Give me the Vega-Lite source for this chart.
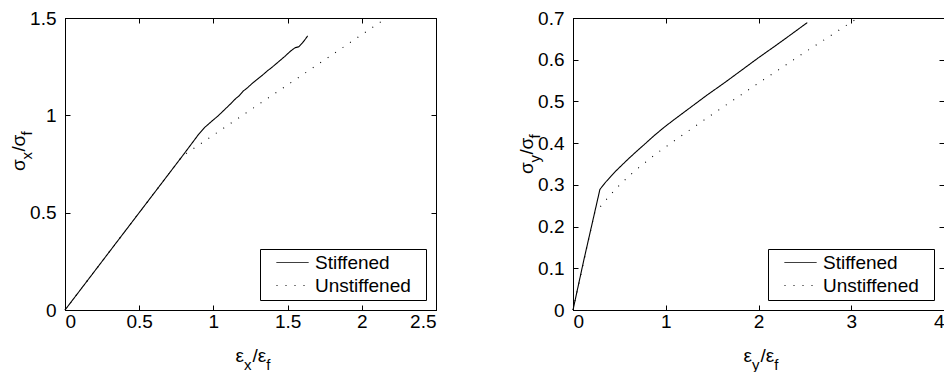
{
  "$schema": "https://vega.github.io/schema/vega-lite/v6.json",
  "background": "white",
  "padding": {"left": 9, "top": 8, "right": 5, "bottom": 5},
  "spacing": 137,
  "bounds": "flush",
  "resolve": {"scale": {"strokeDash": "independent"}, "legend": {"strokeDash": "independent"}},
  "config": {
    "font": "Liberation Sans",
    "view": {"stroke": "black", "strokeWidth": 1},
    "axis": {
      "grid": false,
      "labelFont": "Liberation Sans",
      "labelFontSize": 19,
      "labelColor": "black",
      "domainColor": "black",
      "tickColor": "black",
      "tickSize": -5,
      "tickWidth": 1,
      "format": "~g",
      "title": null
    },
    "axisBottom": {"labelPadding": 7},
    "axisLeft": {"labelPadding": 14},
    "legend": {
      "orient": "bottom-right",
      "offset": 10,
      "padding": 4,
      "rowPadding": 3,
      "strokeColor": "black",
      "fillColor": "white",
      "labelFont": "Liberation Sans",
      "labelFontSize": 19,
      "labelColor": "black",
      "labelOffset": 13,
      "symbolOffset": 19,
      "symbolType": "M-2,0H2M15.9,0",
      "symbolSize": 256,
      "symbolStrokeWidth": 1,
      "symbolStrokeColor": "black",
      "title": null
    },
    "text": {"font": "Liberation Sans", "color": "black", "baseline": "alphabetic", "align": "left"}
  },
  "datasets": {
    "strainX": [
      {"e": 0, "s": 0, "series": "Stiffened"},
      {"e": 0.5, "s": 0.5, "series": "Stiffened"},
      {"e": 0.8, "s": 0.8, "series": "Stiffened"},
      {"e": 0.9, "s": 0.902, "series": "Stiffened"},
      {"e": 0.94, "s": 0.937, "series": "Stiffened"},
      {"e": 0.97, "s": 0.957, "series": "Stiffened"},
      {"e": 1.0, "s": 0.977, "series": "Stiffened"},
      {"e": 1.03, "s": 0.996, "series": "Stiffened"},
      {"e": 1.06, "s": 1.018, "series": "Stiffened"},
      {"e": 1.09, "s": 1.04, "series": "Stiffened"},
      {"e": 1.12, "s": 1.062, "series": "Stiffened"},
      {"e": 1.15, "s": 1.086, "series": "Stiffened"},
      {"e": 1.17, "s": 1.098, "series": "Stiffened"},
      {"e": 1.2, "s": 1.124, "series": "Stiffened"},
      {"e": 1.23, "s": 1.142, "series": "Stiffened"},
      {"e": 1.26, "s": 1.163, "series": "Stiffened"},
      {"e": 1.3, "s": 1.188, "series": "Stiffened"},
      {"e": 1.33, "s": 1.206, "series": "Stiffened"},
      {"e": 1.36, "s": 1.226, "series": "Stiffened"},
      {"e": 1.4, "s": 1.25, "series": "Stiffened"},
      {"e": 1.44, "s": 1.276, "series": "Stiffened"},
      {"e": 1.48, "s": 1.302, "series": "Stiffened"},
      {"e": 1.52, "s": 1.33, "series": "Stiffened"},
      {"e": 1.55, "s": 1.347, "series": "Stiffened"},
      {"e": 1.575, "s": 1.352, "series": "Stiffened"},
      {"e": 1.6, "s": 1.372, "series": "Stiffened"},
      {"e": 1.62, "s": 1.392, "series": "Stiffened"},
      {"e": 1.635, "s": 1.408, "series": "Stiffened"},
      {"e": 0, "s": 0, "series": "Unstiffened"},
      {"e": 0.79, "s": 0.79, "series": "Unstiffened"},
      {"e": 1.2, "s": 1.002, "series": "Unstiffened"},
      {"e": 1.6, "s": 1.208, "series": "Unstiffened"},
      {"e": 2.15, "s": 1.492, "series": "Unstiffened"}
    ],
    "strainY": [
      {"e": 0, "s": 0, "series": "Stiffened"},
      {"e": 0.115, "s": 0.118, "series": "Stiffened"},
      {"e": 0.29, "s": 0.289, "series": "Stiffened"},
      {"e": 0.35, "s": 0.306, "series": "Stiffened"},
      {"e": 0.41, "s": 0.321, "series": "Stiffened"},
      {"e": 0.47, "s": 0.335, "series": "Stiffened"},
      {"e": 0.535, "s": 0.349, "series": "Stiffened"},
      {"e": 0.6, "s": 0.363, "series": "Stiffened"},
      {"e": 0.679, "s": 0.379, "series": "Stiffened"},
      {"e": 0.77, "s": 0.397, "series": "Stiffened"},
      {"e": 0.88, "s": 0.419, "series": "Stiffened"},
      {"e": 0.988, "s": 0.439, "series": "Stiffened"},
      {"e": 1.1, "s": 0.458, "series": "Stiffened"},
      {"e": 1.275, "s": 0.487, "series": "Stiffened"},
      {"e": 1.45, "s": 0.516, "series": "Stiffened"},
      {"e": 1.635, "s": 0.545, "series": "Stiffened"},
      {"e": 1.8, "s": 0.572, "series": "Stiffened"},
      {"e": 1.995, "s": 0.604, "series": "Stiffened"},
      {"e": 2.18, "s": 0.633, "series": "Stiffened"},
      {"e": 2.354, "s": 0.661, "series": "Stiffened"},
      {"e": 2.526, "s": 0.689, "series": "Stiffened"},
      {"e": 0, "s": 0, "series": "Unstiffened"},
      {"e": 0.232, "s": 0.232, "series": "Unstiffened"},
      {"e": 0.284, "s": 0.245, "series": "Unstiffened"},
      {"e": 0.345, "s": 0.261, "series": "Unstiffened"},
      {"e": 0.464, "s": 0.291, "series": "Unstiffened"},
      {"e": 0.607, "s": 0.322, "series": "Unstiffened"},
      {"e": 0.751, "s": 0.349, "series": "Unstiffened"},
      {"e": 0.905, "s": 0.376, "series": "Unstiffened"},
      {"e": 1.1, "s": 0.407, "series": "Unstiffened"},
      {"e": 1.294, "s": 0.437, "series": "Unstiffened"},
      {"e": 1.527, "s": 0.473, "series": "Unstiffened"},
      {"e": 1.768, "s": 0.509, "series": "Unstiffened"},
      {"e": 2.005, "s": 0.545, "series": "Unstiffened"},
      {"e": 2.246, "s": 0.58, "series": "Unstiffened"},
      {"e": 2.48, "s": 0.615, "series": "Unstiffened"},
      {"e": 2.724, "s": 0.65, "series": "Unstiffened"},
      {"e": 2.965, "s": 0.685, "series": "Unstiffened"},
      {"e": 3.044, "s": 0.696, "series": "Unstiffened"}
    ]
  },
  "hconcat": [
    {
      "width": 371,
      "height": 292,
      "data": {"values": [{}]},
      "resolve": {"axis": {"x": "independent", "y": "independent"}},
      "layer": [
        {
          "data": {"name": "strainX"},
          "mark": {"type": "line", "color": "black", "strokeWidth": 1.1},
          "encoding": {
            "x": {"field": "e", "type": "quantitative", "scale": {"domain": [0, 2.5], "nice": false},
                  "axis": {"orient": "bottom", "values": [0, 0.5, 1, 1.5, 2, 2.5]}},
            "y": {"field": "s", "type": "quantitative", "scale": {"domain": [0, 1.5], "nice": false},
                  "axis": {"orient": "left", "values": [0, 0.5, 1, 1.5]}},
            "strokeDash": {"field": "series", "type": "nominal",
                           "scale": {"domain": ["Stiffened", "Unstiffened"], "range": [[1, 0], [1, 8]]}}
          }
        },
        {
          "data": {"name": "strainX"},
          "mark": {"type": "point", "opacity": 0},
          "encoding": {
            "x": {"field": "e", "type": "quantitative",
                  "axis": {"orient": "top", "labels": false, "values": [0, 0.5, 1, 1.5, 2, 2.5]}},
            "y": {"field": "s", "type": "quantitative",
                  "axis": {"orient": "right", "labels": false, "values": [0, 0.5, 1, 1.5]}}
          }
        },
        {"mark": {"type": "text", "text": "ε", "fontSize": 19, "dx": -15, "dy": 52},
         "encoding": {"x": {"datum": 1.25, "type": "quantitative", "axis": null}, "y": {"datum": 0, "type": "quantitative", "axis": null}}},
        {"mark": {"type": "text", "text": "x", "fontSize": 15, "dx": -6.5, "dy": 60},
         "encoding": {"x": {"datum": 1.25, "type": "quantitative", "axis": null}, "y": {"datum": 0, "type": "quantitative", "axis": null}}},
        {"mark": {"type": "text", "text": "/", "fontSize": 19, "dx": 2, "dy": 52},
         "encoding": {"x": {"datum": 1.25, "type": "quantitative", "axis": null}, "y": {"datum": 0, "type": "quantitative", "axis": null}}},
        {"mark": {"type": "text", "text": "ε", "fontSize": 19, "dx": 7.3, "dy": 52},
         "encoding": {"x": {"datum": 1.25, "type": "quantitative", "axis": null}, "y": {"datum": 0, "type": "quantitative", "axis": null}}},
        {"mark": {"type": "text", "text": "f", "fontSize": 15, "dx": 15.8, "dy": 60},
         "encoding": {"x": {"datum": 1.25, "type": "quantitative", "axis": null}, "y": {"datum": 0, "type": "quantitative", "axis": null}}},
        {"mark": {"type": "text", "text": "σ", "fontSize": 19, "angle": 270, "dx": -7, "dy": -40},
         "encoding": {"x": {"datum": 0, "type": "quantitative", "axis": null}, "y": {"datum": 0.75, "type": "quantitative", "axis": null}}},
        {"mark": {"type": "text", "text": "x", "fontSize": 15, "angle": 270, "dx": 4.5, "dy": -33},
         "encoding": {"x": {"datum": 0, "type": "quantitative", "axis": null}, "y": {"datum": 0.75, "type": "quantitative", "axis": null}}},
        {"mark": {"type": "text", "text": "/", "fontSize": 19, "angle": 270, "dx": 12.5, "dy": -40},
         "encoding": {"x": {"datum": 0, "type": "quantitative", "axis": null}, "y": {"datum": 0.75, "type": "quantitative", "axis": null}}},
        {"mark": {"type": "text", "text": "σ", "fontSize": 19, "angle": 270, "dx": 17.5, "dy": -40},
         "encoding": {"x": {"datum": 0, "type": "quantitative", "axis": null}, "y": {"datum": 0.75, "type": "quantitative", "axis": null}}},
        {"mark": {"type": "text", "text": "f", "fontSize": 15, "angle": 270, "dx": 28.5, "dy": -33},
         "encoding": {"x": {"datum": 0, "type": "quantitative", "axis": null}, "y": {"datum": 0.75, "type": "quantitative", "axis": null}}}
      ]
    },
    {
      "width": 371,
      "height": 292,
      "data": {"values": [{}]},
      "resolve": {"axis": {"x": "independent", "y": "independent"}},
      "layer": [
        {
          "data": {"name": "strainY"},
          "mark": {"type": "line", "color": "black", "strokeWidth": 1.1},
          "encoding": {
            "x": {"field": "e", "type": "quantitative", "scale": {"domain": [0, 4], "nice": false},
                  "axis": {"orient": "bottom", "values": [0, 1, 2, 3, 4]}},
            "y": {"field": "s", "type": "quantitative", "scale": {"domain": [0, 0.7], "nice": false},
                  "axis": {"orient": "left", "values": [0, 0.1, 0.2, 0.3, 0.4, 0.5, 0.6, 0.7]}},
            "strokeDash": {"field": "series", "type": "nominal",
                           "scale": {"domain": ["Stiffened", "Unstiffened"], "range": [[1, 0], [1, 8]]}}
          }
        },
        {
          "data": {"name": "strainY"},
          "mark": {"type": "point", "opacity": 0},
          "encoding": {
            "x": {"field": "e", "type": "quantitative",
                  "axis": {"orient": "top", "labels": false, "values": [0, 1, 2, 3, 4]}},
            "y": {"field": "s", "type": "quantitative",
                  "axis": {"orient": "right", "labels": false, "values": [0, 0.1, 0.2, 0.3, 0.4, 0.5, 0.6, 0.7]}}
          }
        },
        {"mark": {"type": "text", "text": "ε", "fontSize": 19, "dx": -15, "dy": 52},
         "encoding": {"x": {"datum": 2, "type": "quantitative", "axis": null}, "y": {"datum": 0, "type": "quantitative", "axis": null}}},
        {"mark": {"type": "text", "text": "y", "fontSize": 15, "dx": -6.5, "dy": 60},
         "encoding": {"x": {"datum": 2, "type": "quantitative", "axis": null}, "y": {"datum": 0, "type": "quantitative", "axis": null}}},
        {"mark": {"type": "text", "text": "/", "fontSize": 19, "dx": 2, "dy": 52},
         "encoding": {"x": {"datum": 2, "type": "quantitative", "axis": null}, "y": {"datum": 0, "type": "quantitative", "axis": null}}},
        {"mark": {"type": "text", "text": "ε", "fontSize": 19, "dx": 7.3, "dy": 52},
         "encoding": {"x": {"datum": 2, "type": "quantitative", "axis": null}, "y": {"datum": 0, "type": "quantitative", "axis": null}}},
        {"mark": {"type": "text", "text": "f", "fontSize": 15, "dx": 15.8, "dy": 60},
         "encoding": {"x": {"datum": 2, "type": "quantitative", "axis": null}, "y": {"datum": 0, "type": "quantitative", "axis": null}}},
        {"mark": {"type": "text", "text": "σ", "fontSize": 19, "angle": 270, "dx": -10, "dy": -40},
         "encoding": {"x": {"datum": 0, "type": "quantitative", "axis": null}, "y": {"datum": 0.35, "type": "quantitative", "axis": null}}},
        {"mark": {"type": "text", "text": "y", "fontSize": 15, "angle": 270, "dx": 1.5, "dy": -33},
         "encoding": {"x": {"datum": 0, "type": "quantitative", "axis": null}, "y": {"datum": 0.35, "type": "quantitative", "axis": null}}},
        {"mark": {"type": "text", "text": "/", "fontSize": 19, "angle": 270, "dx": 9.5, "dy": -40},
         "encoding": {"x": {"datum": 0, "type": "quantitative", "axis": null}, "y": {"datum": 0.35, "type": "quantitative", "axis": null}}},
        {"mark": {"type": "text", "text": "σ", "fontSize": 19, "angle": 270, "dx": 14.5, "dy": -40},
         "encoding": {"x": {"datum": 0, "type": "quantitative", "axis": null}, "y": {"datum": 0.35, "type": "quantitative", "axis": null}}},
        {"mark": {"type": "text", "text": "f", "fontSize": 15, "angle": 270, "dx": 25.5, "dy": -33},
         "encoding": {"x": {"datum": 0, "type": "quantitative", "axis": null}, "y": {"datum": 0.35, "type": "quantitative", "axis": null}}}
      ]
    }
  ]
}
